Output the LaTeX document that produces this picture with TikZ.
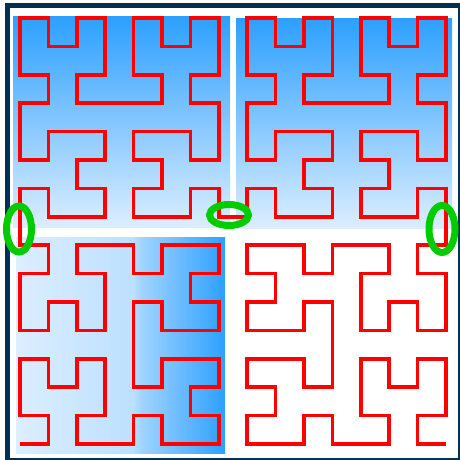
\documentclass[tikz,border=0pt]{standalone}
\usetikzlibrary{lindenmayersystems}
\definecolor{skyblue}{RGB}{45,160,255}
\definecolor{paleblue}{RGB}{220,238,255}
\definecolor{midblue}{RGB}{188,224,255}
\definecolor{framenavy}{RGB}{0,48,84}
\definecolor{jointgreen}{RGB}{0,204,0}
\pgfdeclarelindenmayersystem{hilbert walk}{
  \rule{L -> +RF-LFL-FR+}
  \rule{R -> -LF+RFR+FL-}}
\pgfdeclarehorizontalshading{sidefade}{100bp}{color(0bp)=(paleblue); color(25bp)=(paleblue); color(53bp)=(midblue); color(55bp)=(midblue!80!skyblue); color(75bp)=(skyblue); color(100bp)=(skyblue)}

\begin{document}
\begin{tikzpicture}[x=1pt,y=1pt]
\tikzstyle{upperfill}=[top color=skyblue,bottom color=paleblue]
\tikzstyle{curve}=[red,line width=3.5pt]
\tikzstyle{joint}=[jointgreen,line width=7pt]
\useasboundingbox (0,0) rectangle (460,459);
\draw[framenavy,line width=5pt] (7,-1) rectangle (460,453.5);
% quarter backgrounds
\shade[upperfill] (13,232) rectangle (230,442);
\shade[upperfill] (236,231) rectangle (452,440);
\shade[shading=sidefade] (16,6) rectangle (225,222);
% order 4 curve, bottom left to bottom right
\begin{scope}[shift={(20,15)}]
\draw[curve,lindenmayer system={hilbert walk,axiom=L,order=4,step=28.4pt,angle=90}] (0,0) lindenmayer system;
\end{scope}
% joins between the quarters
\draw[joint] (19,230) ellipse (12.5 and 23);
\draw[joint] (229,244) ellipse (19.5 and 10.5);
\draw[joint] (442,230) ellipse (13 and 23.5);
\end{tikzpicture}
\end{document}
